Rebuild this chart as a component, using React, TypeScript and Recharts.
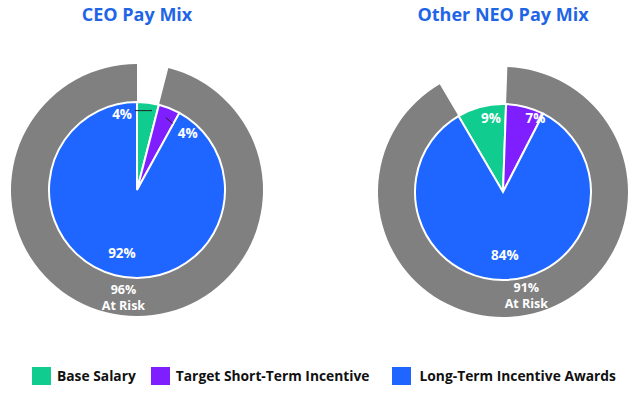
import React from "react";
import { PieChart, Pie, Cell, Legend } from "recharts";

const categories = ["Base Salary", "Target Short-Term Incentive", "Long-Term Incentive Awards"];
const colors = ["#10CC8E", "#7F1FFF", "#1E66FF"];
const ceoValues = [4, 4, 92];
const neoValues = [9, 7, 84];
const ceoAtRisk = 96;
const neoAtRisk = 91;
const titles = ["CEO Pay Mix", "Other NEO Pay Mix"];
const atRiskLabel = "At Risk";

const RAD = Math.PI / 180;
const FONT = "'Open Sans', sans-serif";

const pt = (cx: number, cy: number, r: number, midAngle: number) => ({
  x: cx + r * Math.cos(-midAngle * RAD),
  y: cy + r * Math.sin(-midAngle * RAD),
});

const toData = (vals: number[]) => vals.map((v, i) => ({ name: categories[i], value: v }));
const ringData = (risk: number) => [
  { name: "gap", value: 100 - risk },
  { name: "risk", value: risk },
];

type Place = { d: number; r: number; kind?: "left" | "right" };
const ceoPlaces: Place[] = [
  { d: 0, r: 80, kind: "left" },
  { d: 0, r: 78, kind: "right" },
  { d: -1, r: 65 },
];
const neoPlaces: Place[] = [
  { d: 5, r: 75 },
  { d: 9, r: 81 },
  { d: 0, r: 63 },
];

const makeLabel = (places: Place[]) => (props: any) => {
  const { cx, cy, midAngle, index, value } = props;
  const pl = places[index];
  const p = pt(cx, cy, pl.r, midAngle - pl.d);
  const txt = `${value}%`;
  const style = { fill: "#fff", fontFamily: FONT, fontWeight: 700, fontSize: 13.5 } as any;
  if (pl.kind === "left") {
    return (
      <g key={`l${index}`}>
        <line x1={p.x + 5} y1={p.y} x2={p.x - 12} y2={p.y} stroke="#222" strokeWidth={1} />
        <text x={p.x - 15} y={p.y + 8} textAnchor="end" style={style}>{txt}</text>
      </g>
    );
  }
  if (pl.kind === "right") {
    return (
      <g key={`l${index}`}>
        <line x1={p.x} y1={p.y} x2={p.x + 7} y2={p.y + 6} stroke="#222" strokeWidth={1} />
        <text x={p.x + 12} y={p.y + 21} textAnchor="start" style={style}>{txt}</text>
      </g>
    );
  }
  return (
    <text key={`l${index}`} x={p.x} y={p.y} textAnchor="middle" dominantBaseline="central" style={style}>
      {txt}
    </text>
  );
};

const makeRingLabel = (d: number, r: number) => (props: any) => {
  const { cx, cy, midAngle, index, value } = props;
  if (index === 0) return null;
  const p = pt(cx, cy, r, midAngle - d);
  const style = { fill: "#fff", fontFamily: FONT, fontWeight: 700, fontSize: 12.5 } as any;
  return (
    <g key={`r${index}`}>
      <text x={p.x} y={p.y - 3} textAnchor="middle" style={style}>{`${value}%`}</text>
      <text x={p.x} y={p.y + 13} textAnchor="middle" style={style}>{atRiskLabel}</text>
    </g>
  );
};

const LegendContent = () => (
  <div style={{ display: "flex", alignItems: "center", fontFamily: FONT, fontWeight: 700, fontSize: 13.8, color: "#111", whiteSpace: "nowrap" }}>
    {categories.map((c, i) => (
      <div key={c} style={{ display: "flex", alignItems: "center", marginRight: i === 0 ? 15 : 22 }}>
        <div style={{ width: 19, height: 18, background: colors[i], marginRight: i === 2 ? 9 : 6 }} />
        <span>{c}</span>
      </div>
    ))}
  </div>
);

export default function App() {
  const ceoStart = 90;
  const neoStart = 90 - 2 + (100 - neoAtRisk) * 3.6;
  const titleStyle = { position: "absolute", width: 274, top: 2, textAlign: "center", fontFamily: FONT, fontWeight: 700, fontSize: 18, color: "#1F66E6" } as any;
  return (
    <div style={{ position: "absolute", left: 0, top: 0, width: 643, height: 394, background: "#fff" }}>
      <div style={{ ...titleStyle, left: 0 }}>{titles[0]}</div>
      <div style={{ ...titleStyle, left: 366 }}>{titles[1]}</div>
      <PieChart width={643} height={394} margin={{ top: 0, right: 0, bottom: 0, left: 0 }} style={{ position: "absolute", left: 0, top: 0 }}>
        <Pie
          data={ringData(ceoAtRisk)}
          dataKey="value"
          cx={137}
          cy={190}
          innerRadius={86}
          outerRadius={126}
          startAngle={ceoStart}
          endAngle={ceoStart - 360}
          stroke="none"
          label={makeRingLabel(0, 108)}
          labelLine={false}
          isAnimationActive={false}
        >
          <Cell fill="transparent" />
          <Cell fill="#808080" />
        </Pie>
        <Pie
          data={toData(ceoValues)}
          dataKey="value"
          cx={137}
          cy={190}
          outerRadius={88}
          startAngle={ceoStart}
          endAngle={ceoStart - 360}
          stroke="#fff"
          strokeWidth={2}
          label={makeLabel(ceoPlaces)}
          labelLine={false}
          isAnimationActive={false}
        >
          {ceoValues.map((_, i) => (
            <Cell key={i} fill={colors[i]} />
          ))}
        </Pie>
        <Pie
          data={ringData(neoAtRisk)}
          dataKey="value"
          cx={503}
          cy={192}
          innerRadius={86}
          outerRadius={125}
          startAngle={neoStart}
          endAngle={neoStart - 360}
          stroke="none"
          label={makeRingLabel(1.5, 106)}
          labelLine={false}
          isAnimationActive={false}
        >
          <Cell fill="transparent" />
          <Cell fill="#808080" />
        </Pie>
        <Pie
          data={toData(neoValues)}
          dataKey="value"
          cx={503}
          cy={192}
          outerRadius={88}
          startAngle={neoStart}
          endAngle={neoStart - 360}
          stroke="#fff"
          strokeWidth={2}
          label={makeLabel(neoPlaces)}
          labelLine={false}
          isAnimationActive={false}
        >
          {neoValues.map((_, i) => (
            <Cell key={i} fill={colors[i]} />
          ))}
        </Pie>
        <Legend
          content={<LegendContent />}
          wrapperStyle={{ position: "absolute", left: 32, top: 366, width: 620 }}
        />
      </PieChart>
    </div>
  );
}
